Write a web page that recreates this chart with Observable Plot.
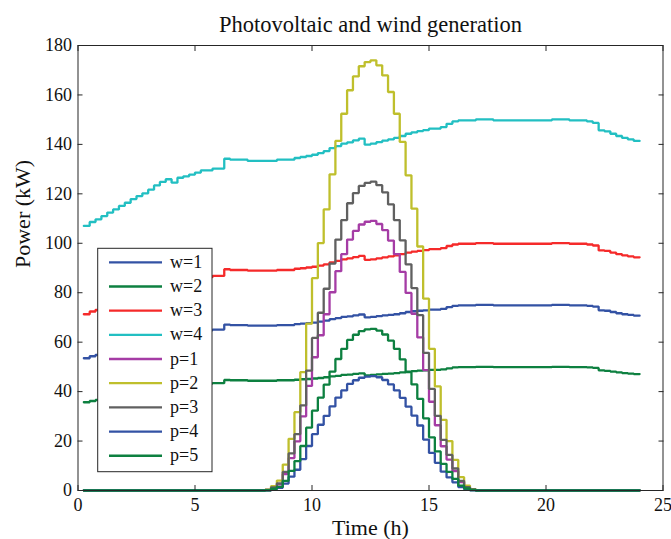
<!DOCTYPE html>
<html>
<head>
<meta charset="utf-8">
<script src="https://cdn.jsdelivr.net/npm/d3@7"></script>
<script src="https://cdn.jsdelivr.net/npm/@observablehq/plot@0.6"></script>
<style>
  html, body { margin: 0; padding: 0; background: #ffffff; }
  #chart { width: 671px; height: 539px; }
  #chart svg text { font-family: "Liberation Serif", "Times New Roman", serif !important; }
</style>
</head>
<body>
<div id="chart"></div>
<script>
// ---------- data ----------
const titleText = "Photovoltaic and wind generation";
const xLabel = "Time (h)";
const yLabel = "Power (kW)";
const xTicks = [0, 5, 10, 15, 20, 25];
const yTicks = [0, 20, 40, 60, 80, 100, 120, 140, 160, 180];

// time (h), 15-min steps
const time = [
  0.25, 0.5, 0.75, 1, 1.25, 1.5, 1.75, 2, 2.25, 2.5, 2.75, 3,
  3.25, 3.5, 3.75, 4, 4.25, 4.5, 4.75, 5, 5.25, 5.5, 5.75, 6,
  6.25, 6.5, 6.75, 7, 7.25, 7.5, 7.75, 8, 8.25, 8.5, 8.75, 9,
  9.25, 9.5, 9.75, 10, 10.25, 10.5, 10.75, 11, 11.25, 11.5, 11.75, 12,
  12.25, 12.5, 12.75, 13, 13.25, 13.5, 13.75, 14, 14.25, 14.5, 14.75, 15,
  15.25, 15.5, 15.75, 16, 16.25, 16.5, 16.75, 17, 17.25, 17.5, 17.75, 18,
  18.25, 18.5, 18.75, 19, 19.25, 19.5, 19.75, 20, 20.25, 20.5, 20.75, 21,
  21.25, 21.5, 21.75, 22, 22.25, 22.5, 22.75, 23, 23.25, 23.5, 23.75, 24
];

// wind scenarios (kW)
const w1 = [
  53.5, 54.3, 54.9, 55.5, 56.2, 56.9, 57.6, 58.2, 59.0, 59.6, 60.1, 60.9,
  61.7, 62.4, 63.0, 62.3, 63.3, 63.6, 63.9, 64.3, 64.8, 64.8, 65.1, 65.1,
  67.1, 66.9, 66.9, 66.9, 66.7, 66.7, 66.7, 66.7, 66.7, 66.9, 66.9, 66.9,
  67.3, 67.5, 67.7, 67.9, 68.3, 68.7, 69.3, 69.7, 70.2, 70.4, 70.8, 71.2,
  70.0, 70.2, 70.5, 70.8, 71.0, 71.3, 71.7, 72.2, 72.5, 72.7, 72.9, 73.2,
  73.2, 73.5, 74.2, 74.7, 74.9, 74.9, 74.9, 75.1, 75.1, 75.1, 74.9, 74.9,
  74.9, 74.9, 74.9, 74.9, 74.9, 74.9, 74.9, 74.9, 75.1, 75.1, 75.1, 74.9,
  74.9, 74.9, 74.7, 74.4, 72.9, 72.7, 72.2, 71.7, 71.3, 71.0, 70.7, 70.7
];
const w2 = [
  35.7, 36.2, 36.6, 37.0, 37.5, 37.9, 38.4, 38.8, 39.3, 39.7, 40.1, 40.6,
  41.1, 41.6, 42.0, 41.5, 42.2, 42.4, 42.6, 42.9, 43.2, 43.2, 43.4, 43.4,
  44.7, 44.6, 44.6, 44.6, 44.4, 44.4, 44.4, 44.4, 44.4, 44.6, 44.6, 44.6,
  44.8, 45.0, 45.1, 45.3, 45.5, 45.8, 46.2, 46.4, 46.8, 46.9, 47.2, 47.4,
  46.6, 46.8, 47.0, 47.2, 47.3, 47.5, 47.8, 48.1, 48.3, 48.5, 48.6, 48.8,
  48.8, 49.0, 49.4, 49.8, 49.9, 49.9, 49.9, 50.0, 50.0, 50.0, 49.9, 49.9,
  49.9, 49.9, 49.9, 49.9, 49.9, 49.9, 49.9, 49.9, 50.0, 50.0, 50.0, 49.9,
  49.9, 49.9, 49.8, 49.6, 48.6, 48.4, 48.1, 47.8, 47.5, 47.3, 47.1, 47.1
];
const w3 = [
  71.3, 72.4, 73.1, 74.0, 74.9, 75.8, 76.7, 77.6, 78.6, 79.4, 80.1, 81.1,
  82.3, 83.2, 83.9, 83.0, 84.3, 84.7, 85.2, 85.7, 86.3, 86.3, 86.8, 86.8,
  89.5, 89.2, 89.2, 89.2, 88.9, 88.9, 88.9, 88.9, 88.9, 89.2, 89.2, 89.2,
  89.7, 89.9, 90.2, 90.5, 91.0, 91.5, 92.3, 92.9, 93.5, 93.9, 94.4, 94.9,
  93.3, 93.5, 93.9, 94.3, 94.7, 95.1, 95.6, 96.2, 96.6, 96.9, 97.2, 97.6,
  97.6, 98.0, 98.9, 99.5, 99.8, 99.8, 99.8, 100.1, 100.1, 100.1, 99.8, 99.8,
  99.8, 99.8, 99.8, 99.8, 99.8, 99.8, 99.8, 99.8, 100.1, 100.1, 100.1, 99.8,
  99.8, 99.8, 99.5, 99.1, 97.1, 96.9, 96.2, 95.6, 95.1, 94.7, 94.3, 94.3
];
const w4 = [
  107.0, 108.6, 109.7, 111.0, 112.4, 113.7, 115.1, 116.4, 117.9, 119.1, 120.2, 121.7,
  123.4, 124.8, 125.9, 124.5, 126.5, 127.1, 127.8, 128.6, 129.5, 129.5, 130.2, 130.2,
  134.2, 133.8, 133.8, 133.8, 133.3, 133.3, 133.3, 133.3, 133.3, 133.8, 133.8, 133.8,
  134.5, 134.9, 135.3, 135.8, 136.5, 137.3, 138.5, 139.3, 140.3, 140.8, 141.6, 142.3,
  139.9, 140.3, 140.9, 141.5, 142.0, 142.6, 143.4, 144.3, 144.9, 145.4, 145.8, 146.4,
  146.4, 147.0, 148.3, 149.3, 149.7, 149.7, 149.7, 150.1, 150.1, 150.1, 149.7, 149.7,
  149.7, 149.7, 149.7, 149.7, 149.7, 149.7, 149.7, 149.7, 150.1, 150.1, 150.1, 149.7,
  149.7, 149.7, 149.3, 148.7, 145.7, 145.3, 144.3, 143.4, 142.6, 142.0, 141.4, 141.4
];

// photovoltaic scenarios (kW)
const p1 = [
  0, 0, 0, 0, 0, 0, 0, 0, 0, 0, 0, 0,
  0, 0, 0, 0, 0, 0, 0, 0, 0, 0, 0, 0,
  0, 0, 0, 0, 0, 0, 0, 0.2, 1.1, 2.5, 6.6, 13.1,
  19.9, 30.0, 42.3, 53.9, 62.8, 71.3, 80.2, 88.7, 95.6, 101.5, 105.0, 107.6,
  108.7, 109.1, 107.8, 105.3, 101.1, 95.6, 88.4, 79.9, 71.5, 61.9, 48.7, 35.9,
  26.4, 17.9, 12.5, 7.8, 3.4, 1.3, 0.3, 0, 0, 0, 0, 0,
  0, 0, 0, 0, 0, 0, 0, 0, 0, 0, 0, 0,
  0, 0, 0, 0, 0, 0, 0, 0, 0, 0, 0, 0
];
const p2 = [
  0, 0, 0, 0, 0, 0, 0, 0, 0, 0, 0, 0,
  0, 0, 0, 0, 0, 0, 0, 0, 0, 0, 0, 0,
  0, 0, 0, 0, 0, 0, 0, 0.3, 1.8, 4.0, 10.5, 20.9,
  31.7, 47.9, 67.5, 85.9, 100.1, 113.7, 127.9, 141.4, 152.4, 161.9, 167.5, 171.6,
  173.3, 174.0, 172.0, 167.9, 161.2, 152.4, 141.0, 127.5, 114.0, 98.7, 77.6, 57.3,
  42.1, 28.6, 20.0, 12.4, 5.4, 2.0, 0.5, 0, 0, 0, 0, 0,
  0, 0, 0, 0, 0, 0, 0, 0, 0, 0, 0, 0,
  0, 0, 0, 0, 0, 0, 0, 0, 0, 0, 0, 0
];
const p3 = [
  0, 0, 0, 0, 0, 0, 0, 0, 0, 0, 0, 0,
  0, 0, 0, 0, 0, 0, 0, 0, 0, 0, 0, 0,
  0, 0, 0, 0, 0, 0, 0, 0.2, 1.3, 2.9, 7.5, 15.0,
  22.8, 34.4, 48.5, 61.7, 71.9, 81.6, 91.8, 101.5, 109.4, 116.2, 120.3, 123.2,
  124.4, 124.9, 123.5, 120.6, 115.7, 109.4, 101.2, 91.5, 81.9, 70.9, 55.7, 41.1,
  30.2, 20.5, 14.4, 8.9, 3.9, 1.4, 0.4, 0, 0, 0, 0, 0,
  0, 0, 0, 0, 0, 0, 0, 0, 0, 0, 0, 0,
  0, 0, 0, 0, 0, 0, 0, 0, 0, 0, 0, 0
];
const p4 = [
  0, 0, 0, 0, 0, 0, 0, 0, 0, 0, 0, 0,
  0, 0, 0, 0, 0, 0, 0, 0, 0, 0, 0, 0,
  0, 0, 0, 0, 0, 0, 0, 0.1, 0.5, 1.1, 2.8, 5.6,
  8.4, 12.7, 18.0, 22.8, 26.6, 30.2, 34.0, 37.6, 40.5, 43.1, 44.6, 45.6,
  46.1, 46.3, 45.8, 44.7, 42.9, 40.5, 37.5, 33.9, 30.3, 26.3, 20.6, 15.2,
  11.2, 7.6, 5.3, 3.3, 1.4, 0.5, 0.1, 0, 0, 0, 0, 0,
  0, 0, 0, 0, 0, 0, 0, 0, 0, 0, 0, 0,
  0, 0, 0, 0, 0, 0, 0, 0, 0, 0, 0, 0
];
const p5 = [
  0, 0, 0, 0, 0, 0, 0, 0, 0, 0, 0, 0,
  0, 0, 0, 0, 0, 0, 0, 0, 0, 0, 0, 0,
  0, 0, 0, 0, 0, 0, 0, 0.1, 0.7, 1.5, 3.9, 7.9,
  11.9, 18.0, 25.4, 32.3, 37.6, 42.8, 48.1, 53.2, 57.3, 60.9, 63.0, 64.5,
  65.2, 65.4, 64.7, 63.1, 60.6, 57.3, 53.0, 47.9, 42.9, 37.1, 29.2, 21.5,
  15.8, 10.8, 7.5, 4.7, 2.0, 0.8, 0.2, 0, 0, 0, 0, 0,
  0, 0, 0, 0, 0, 0, 0, 0, 0, 0, 0, 0,
  0, 0, 0, 0, 0, 0, 0, 0, 0, 0, 0, 0
];

const seriesNames = ["w=1", "w=2", "w=3", "w=4", "p=1", "p=2", "p=3", "p=4", "p=5"];
const seriesValues = [w1, w2, w3, w4, p1, p2, p3, p4, p5];
const seriesColors = ["#3352a4", "#0d8040", "#f52a2a", "#22bfc2", "#a53ca5", "#bfbf2c", "#606060", "#3352a4", "#0d8040"];

// ---------- table ----------
const rows = seriesNames.flatMap((name, k) =>
  time.map((t, i) => ({t, v: seriesValues[k][i], s: name}))
);

const font = "Liberation Serif, Times New Roman, serif";
const ink = "#262626";

const chart = Plot.plot({
  width: 671,
  height: 539,
  marginLeft: 77.5,
  marginRight: 8.5,
  marginTop: 45,
  marginBottom: 49,
  style: {fontFamily: font, fontSize: "18px", background: "#ffffff", color: "#111"},
  x: {domain: [0, 25]},
  y: {domain: [0, 180]},
  color: {domain: seriesNames, range: seriesColors},
  marks: [
    Plot.line(rows, {x: "t", y: "v", z: "s", stroke: "s", curve: "step-after", strokeWidth: 2.3, strokeLinejoin: "miter"}),
    Plot.frame({stroke: ink, strokeWidth: 1}),
    Plot.axisX(xTicks, {anchor: "bottom", tickSize: -5, tickPadding: 13, label: null, stroke: ink}),
    Plot.axisX(xTicks, {anchor: "top", tickSize: -5, tickFormat: () => "", label: null, stroke: ink}),
    Plot.axisY(yTicks, {anchor: "left", tickSize: -5, tickPadding: 11, label: null, stroke: ink}),
    Plot.axisY(yTicks, {anchor: "right", tickSize: -5, tickFormat: () => "", label: null, stroke: ink}),
    Plot.text([titleText], {text: d => d, frameAnchor: "top", lineAnchor: "bottom", dy: -13.5, fontSize: 22.5, fill: "#111"}),
    Plot.text([xLabel], {text: d => d, frameAnchor: "bottom", lineAnchor: "bottom", dy: 44, fontSize: 22, fill: "#111"}),
    Plot.text([yLabel], {text: d => d, frameAnchor: "left", lineAnchor: "bottom", rotate: -90, dx: -48, fontSize: 22, fill: "#111"})
  ]
});

// ---------- legend ----------
const svg = d3.select(chart);
const lg = svg.append("g")
  .attr("font-family", font).attr("font-size", 18).attr("text-anchor", "start");
lg.append("rect")
  .attr("x", 97.7).attr("y", 248.3).attr("width", 114.3).attr("height", 223.4)
  .attr("fill", "#ffffff").attr("stroke", ink).attr("stroke-width", 1);
seriesNames.forEach((name, i) => {
  const cy = 262.3 + 24.18 * i;
  lg.append("line")
    .attr("x1", 109).attr("x2", 162).attr("y1", cy).attr("y2", cy)
    .attr("stroke", seriesColors[i]).attr("stroke-width", 2.3);
  lg.append("text")
    .attr("x", 170).attr("y", cy + 5.5)
    .style("text-anchor", "start")
    .attr("fill", "#111").text(name);
});
svg.selectAll("text").style("font-family", font);

document.getElementById("chart").appendChild(chart);
</script>
</body>
</html>
